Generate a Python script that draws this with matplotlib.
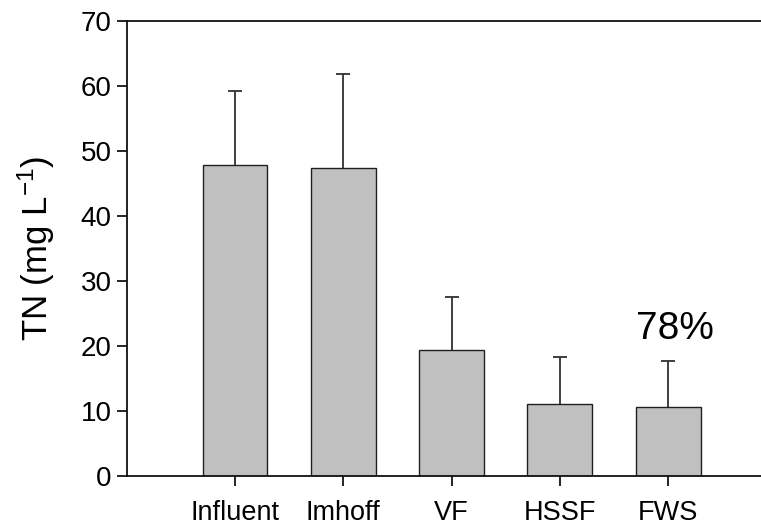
import numpy as np
import matplotlib.pyplot as plt

plt.rcParams['font.family'] = ['Liberation Sans', 'DejaVu Sans']
plt.rcParams['mathtext.default'] = 'regular'

# TN concentration by treatment stage, mean and SD
stages = ['Influent', 'Imhoff', 'VF', 'HSSF', 'FWS']
tn_mean = [47.8, 47.4, 19.3, 11.1, 10.6]
tn_sd = [11.4, 14.4, 8.2, 7.1, 7.1]
removal_label = '78%'

fig = plt.figure(figsize=(7.61, 5.27), dpi=100)
ax = fig.add_axes([0.1665, 0.0973, 1.0 - 0.1665, 0.9607 - 0.0973])

x = np.arange(1, len(stages) + 1)
ax.bar(x, tn_mean, width=0.6, color='#c0c0c0', edgecolor='#202020', linewidth=1.0, zorder=2)
eb = ax.errorbar(x, tn_mean, yerr=[np.zeros(len(x)), tn_sd], fmt='none',
                 ecolor='#303030', elinewidth=1.3, capsize=4.8, capthick=1.3, zorder=3)
# only the upper whisker gets a cap
eb[1][0].set_visible(False)

ax.text(5.06, 21.0, removal_label, ha='center', va='baseline', fontsize=28)

ax.set_xlim(0, 5.857)
ax.set_ylim(0, 70)
ax.set_yticks(np.arange(0, 71, 10))
ax.set_xticks(x)
ax.set_xticklabels(stages)
ax.set_ylabel('TN (mg L$^{-1}$)', fontsize=25, labelpad=17)

ax.spines['right'].set_visible(False)
for s in ['left', 'bottom', 'top']:
    ax.spines[s].set_linewidth(1.3)
    ax.spines[s].set_color('#101010')
ax.tick_params(axis='y', direction='out', length=7, width=1.2, labelsize=20, pad=4)
ax.tick_params(axis='x', direction='out', length=7, width=1.2, labelsize=19.5, pad=10.5)

fig.savefig('out.png', dpi=100)
